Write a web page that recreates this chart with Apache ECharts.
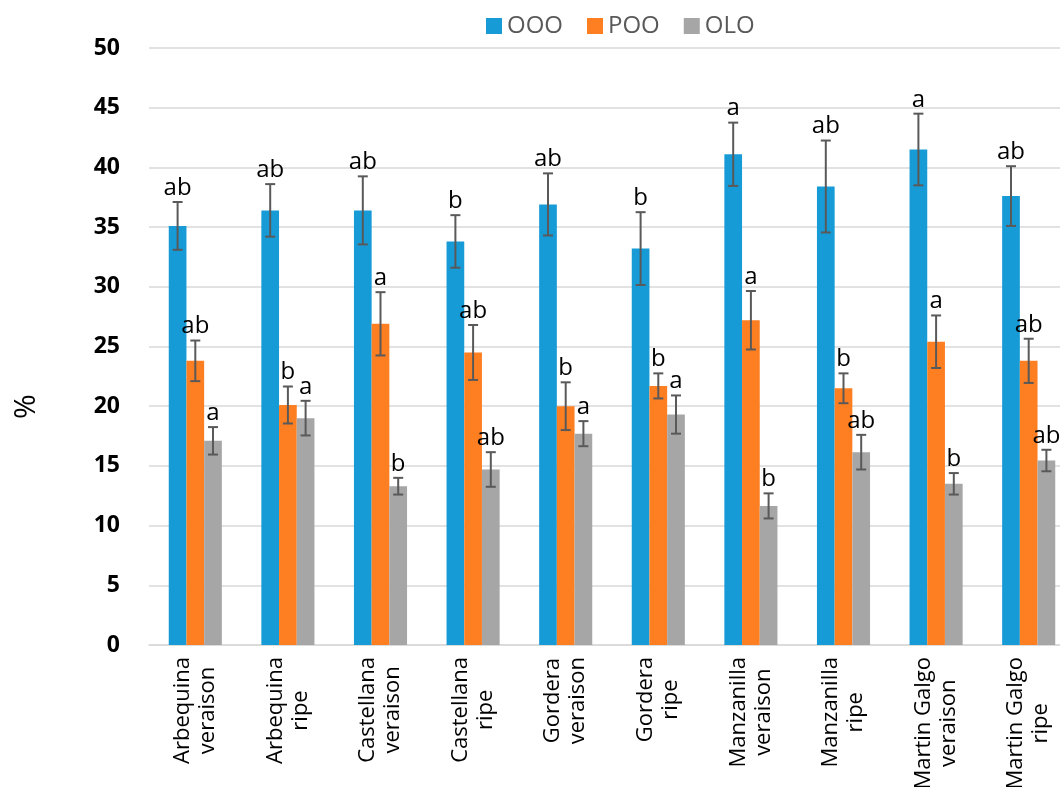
<!DOCTYPE html>
<html>
<head>
<meta charset="utf-8">
<script src="https://cdn.jsdelivr.net/npm/echarts@6/dist/echarts.min.js"></script>
<style>
  html, body { margin: 0; padding: 0; background: #fff; }
  #chart { width: 1060px; height: 787px; }
</style>
</head>
<body>
<div id="chart"></div>
<script>
// cultivar / stage on the x axis
var categories = [
  'Arbequina\nveraison', 'Arbequina\nripe',
  'Castellana\nveraison', 'Castellana\nripe',
  'Gordera\nveraison', 'Gordera\nripe',
  'Manzanilla\nveraison', 'Manzanilla\nripe',
  'Martin Galgo\nveraison', 'Martin Galgo\nripe'
];
var seriesNames = ['OOO', 'POO', 'OLO'];

// mean values (%)
var ooo = [35.1, 36.4, 36.4, 33.8, 36.9, 33.2, 41.1, 38.4, 41.5, 37.6];
var poo = [23.8, 20.1, 26.9, 24.5, 20.0, 21.7, 27.2, 21.5, 25.4, 23.8];
var olo = [17.1, 19.0, 13.3, 14.7, 17.7, 19.3, 11.65, 16.15, 13.5, 15.45];

// error bars (+/-)
var oooErr = [2.0, 2.2, 2.85, 2.2, 2.6, 3.05, 2.65, 3.85, 3.0, 2.5];
var pooErr = [1.7, 1.55, 2.65, 2.3, 2.0, 1.05, 2.45, 1.25, 2.2, 1.85];
var oloErr = [1.15, 1.45, 0.7, 1.45, 1.05, 1.6, 1.05, 1.45, 0.9, 0.9];

// significance letters
var oooSig = ['ab', 'ab', 'ab', 'b', 'ab', 'b', 'a', 'ab', 'a', 'ab'];
var pooSig = ['ab', 'b', 'a', 'ab', 'b', 'b', 'a', 'b', 'a', 'ab'];
var oloSig = ['a', 'a', 'b', 'ab', 'a', 'a', 'b', 'ab', 'b', 'ab'];

var values = [ooo, poo, olo];
var errs = [oooErr, pooErr, oloErr];
var sigs = [oooSig, pooSig, oloSig];
var colors = ['#179bd7', '#fe7f22', '#a6a6a6'];

var BAR_W = 17.7;
var FONT = '"Open Sans", sans-serif';
var XLAB_SIZE = 22;

var chart = echarts.init(document.getElementById('chart'));

// bar series
var series = [];
for (var s = 0; s < 3; s++) {
  series.push({
    name: seriesNames[s],
    type: 'bar',
    barWidth: BAR_W,
    barGap: '0%',
    itemStyle: { color: colors[s] },
    data: values[s]
  });
}

// error bars + letters, one custom series per bar series
function errorSeries(s) {
  return {
    type: 'custom',
    z: 5,
    silent: true,
    renderItem: function (params, api) {
      var i = params.dataIndex;
      var v = api.value(1), e = api.value(2);
      var top = api.coord([api.value(0), v + e]);
      var bot = api.coord([api.value(0), v - e]);
      var x = top[0] + (s - 1) * BAR_W;
      var lineStyle = { stroke: '#595959', lineWidth: 2 };
      return {
        type: 'group',
        children: [
          { type: 'line', shape: { x1: x, y1: top[1], x2: x, y2: bot[1] }, style: lineStyle },
          { type: 'line', shape: { x1: x - 5, y1: top[1], x2: x + 5, y2: top[1] }, style: lineStyle },
          { type: 'line', shape: { x1: x - 5, y1: bot[1], x2: x + 5, y2: bot[1] }, style: lineStyle },
          {
            type: 'text',
            style: {
              x: x, y: top[1] - 2,
              text: sigs[s][i],
              align: 'center', verticalAlign: 'bottom',
              fill: '#000', font: '24px ' + FONT
            }
          }
        ]
      };
    },
    data: values[s].map(function (v, i) { return [i, v, errs[s][i]]; })
  };
}
for (var k = 0; k < 3; k++) series.push(errorSeries(k));

// centre the shorter line of each two-line x label under the longer one
var ctx = document.createElement('canvas').getContext('2d');
ctx.font = XLAB_SIZE + 'px ' + FONT;
var xRich = {};
categories.forEach(function (c, i) {
  var lines = c.split('\n');
  var ws = lines.map(function (t) { return ctx.measureText(t).width; });
  var maxW = Math.max.apply(null, ws);
  lines.forEach(function (t, j) {
    xRich['l' + i + '_' + j] = {
      fontSize: XLAB_SIZE, fontFamily: FONT, color: '#000', lineHeight: 25,
      padding: [0, (maxW - ws[j]) / 2, 0, 0]
    };
  });
});

var option = {
  backgroundColor: '#fff',
  animation: false,
  legend: {
    data: seriesNames,
    left: 481,
    top: 9,
    icon: 'rect',
    itemWidth: 16,
    itemHeight: 16,
    itemGap: 24,
    textStyle: { color: '#595959', fontSize: 24, fontFamily: FONT }
  },
  grid: {
    left: 149, top: 48, width: 926, height: 597,
    containLabel: false, outerBoundsMode: 'none'
  },
  xAxis: {
    type: 'category',
    data: categories,
    axisLine: { lineStyle: { color: '#d9d9d9', width: 1.5 } },
    axisTick: { show: false },
    axisLabel: {
      rotate: 90,
      margin: 12,
      interval: 0,
      hideOverlap: false,
      color: '#000',
      fontSize: XLAB_SIZE,
      fontFamily: FONT,
      lineHeight: 25,
      formatter: function (val, idx) {
        return val.split('\n').map(function (t, j) {
          return '{l' + idx + '_' + j + '|' + t + '}';
        }).join('\n');
      },
      rich: xRich
    }
  },
  yAxis: {
    type: 'value',
    min: 0,
    max: 50,
    interval: 5,
    name: '%',
    nameLocation: 'middle',
    nameGap: 108,
    nameTextStyle: { color: '#000', fontSize: 30, fontFamily: FONT, padding: [0, 120, 0, 0] },
    axisLine: { show: false },
    axisTick: { show: false },
    axisLabel: { margin: 29, color: '#000', fontSize: 23, fontWeight: 'bold', fontFamily: FONT },
    splitLine: { lineStyle: { color: '#d9d9d9', width: 1.5 } }
  },
  series: series
};

if (option && typeof option === 'object') {
  chart.setOption(option, true);
}
</script>
</body>
</html>
